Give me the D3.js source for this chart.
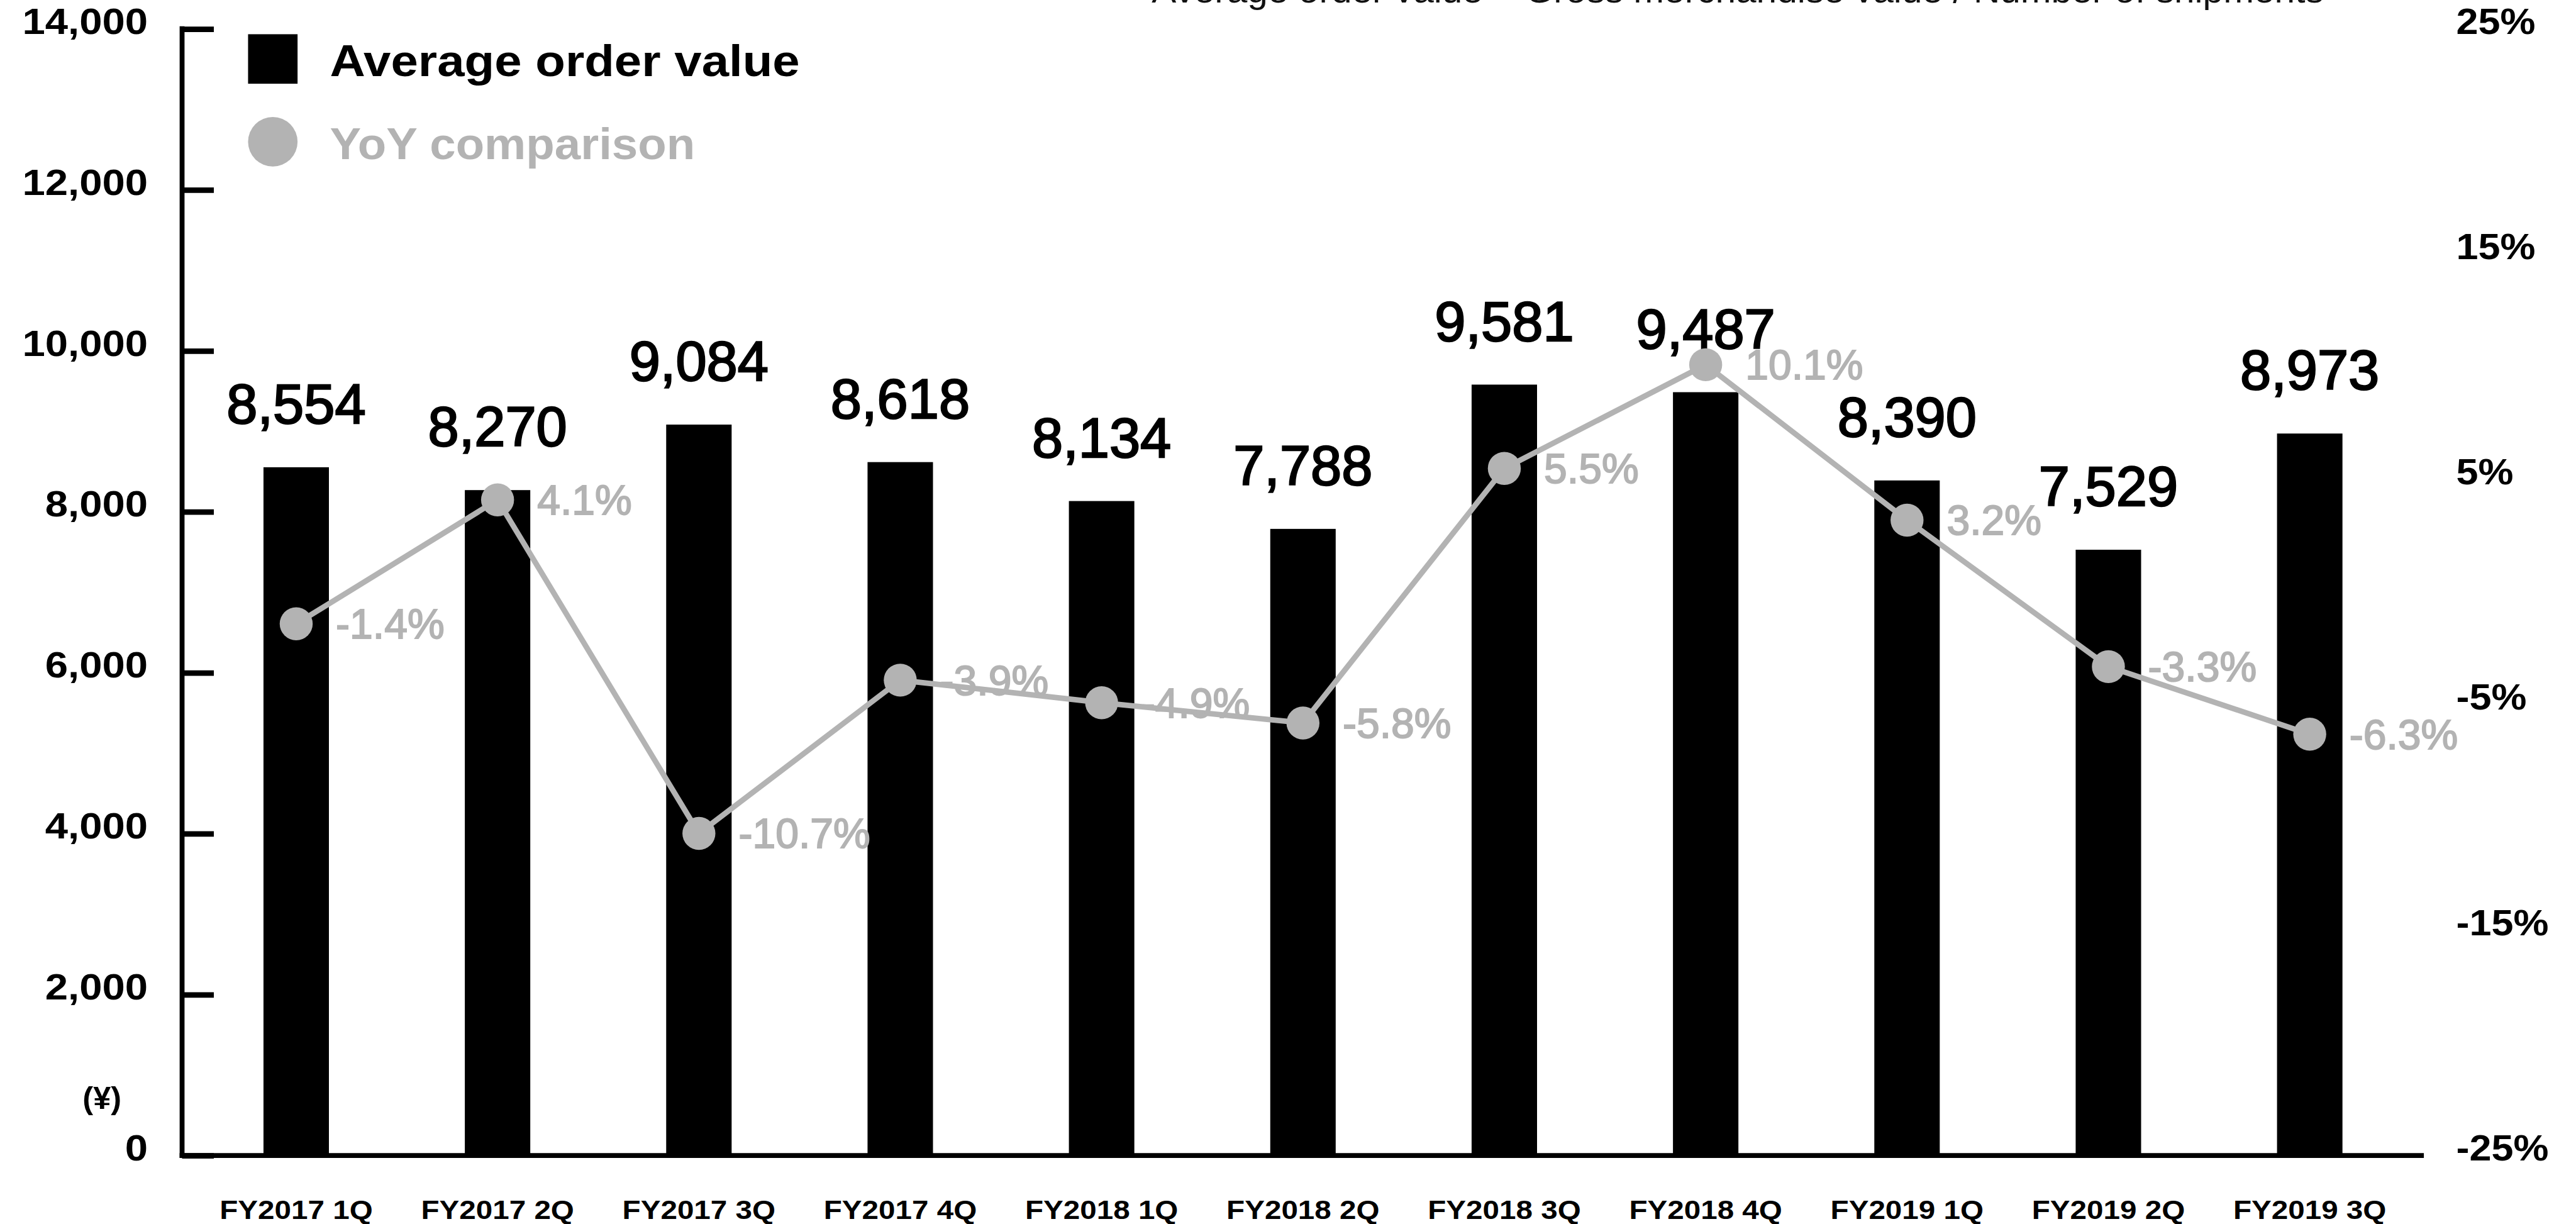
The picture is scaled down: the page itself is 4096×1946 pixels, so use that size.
<!DOCTYPE html>
<html>
<head>
<meta charset="utf-8">
<script src="https://cdn.jsdelivr.net/npm/d3@7"></script>
<style>
  html, body { margin: 0; padding: 0; background: #fff; overflow: hidden; }
  svg { display: block; }
  text { font-family: "Liberation Sans", Arial, Helvetica, sans-serif; }
</style>
</head>
<body>
<script>
// Quarterly average order value (yen) and its year-over-year change (%)
const quarters = ["FY2017 1Q", "FY2017 2Q", "FY2017 3Q", "FY2017 4Q", "FY2018 1Q", "FY2018 2Q",
                  "FY2018 3Q", "FY2018 4Q", "FY2019 1Q", "FY2019 2Q", "FY2019 3Q"];
const avgOrderValue = [8554, 8270, 9084, 8618, 8134, 7788, 9581, 9487, 8390, 7529, 8973];
const yoyChange = [-1.4, 4.1, -10.7, -3.9, -4.9, -5.8, 5.5, 10.1, 3.2, -3.3, -6.3];

const leftTicks = [0, 2000, 4000, 6000, 8000, 10000, 12000, 14000];
const leftTickLabels = ["0", "2,000", "4,000", "6,000", "8,000", "10,000", "12,000", "14,000"];
const rightTicks = [-25, -15, -5, 5, 15, 25];
const rightTickLabels = ["-25%", "-15%", "-5%", "5%", "15%", "25%"];

const legendLabels = ["Average order value", "YoY comparison"];
const formulaNote = "Average order value = Gross merchandise value / Number of shipments";
const unitLabel = "(¥)";

// Drawing space (scaled down to the window through the viewBox)
const W = 4216, H = 2003;
const GRAY = "#b3b3b3";
const axisX = 298, axisBottom = 1891, axisTop = 47.5, axisRight = 3967;

const svg = d3.select("body").append("svg")
  .attr("width", 4096).attr("height", 1946)
  .attr("viewBox", `0 0 ${W} ${H}`)
  .attr("preserveAspectRatio", "none");

const x = d3.scaleBand().domain(quarters).range([320, 3945])
  .paddingInner(0.675).paddingOuter(0.3375);
const y = d3.scaleLinear().domain([0, 14000]).range([axisBottom, axisTop]);
const y2 = d3.scaleLinear().domain([-25, 25]).range([axisBottom, axisTop]);

// widen glyphs horizontally to the face's proportions
function stretch(sel, k) {
  sel.each(function () {
    const w = this.getComputedTextLength();
    d3.select(this).attr("textLength", w * k).attr("lengthAdjust", "spacingAndGlyphs");
  });
}

// percent with an ASCII hyphen for negatives
const pct = d => d3.format(".1f")(d).replace("\u2212", "-") + "%";

// Formula note at the top
svg.append("text")
  .attr("x", 1885).attr("y", 4)
  .attr("font-size", 58).attr("fill", "#111")
  .attr("textLength", 1918).attr("lengthAdjust", "spacingAndGlyphs")
  .text(formulaNote);

// Bars
svg.append("g").selectAll("rect")
  .data(avgOrderValue)
  .join("rect")
  .attr("x", (d, i) => x(quarters[i]))
  .attr("width", x.bandwidth())
  .attr("y", d => y(d))
  .attr("height", d => y(0) - y(d))
  .attr("fill", "#000");

// Axis lines
svg.append("line")
  .attr("x1", axisX).attr("x2", axisX)
  .attr("y1", axisTop - 4.5).attr("y2", axisBottom + 4)
  .attr("stroke", "#000").attr("stroke-width", 8);
svg.append("line")
  .attr("x1", axisX - 4).attr("x2", axisRight)
  .attr("y1", axisBottom).attr("y2", axisBottom)
  .attr("stroke", "#000").attr("stroke-width", 8);

// Inward tick marks on the left axis
const tickMarks = svg.append("g")
  .attr("transform", `translate(${axisX},0)`)
  .call(d3.axisRight(y).tickValues(leftTicks).tickSize(52).tickFormat(""));
tickMarks.select(".domain").remove();
tickMarks.selectAll("line").attr("stroke", "#000").attr("stroke-width", 9);

// Left axis labels
const leftAxis = svg.append("g")
  .attr("transform", `translate(${axisX},0)`)
  .call(d3.axisLeft(y).tickValues(leftTicks).tickSize(0).tickPadding(56)
    .tickFormat((d, i) => leftTickLabels[i]));
leftAxis.select(".domain").remove();
leftAxis.selectAll("text")
  .attr("font-size", 60).attr("font-weight", 700).attr("fill", "#000")
  .attr("font-family", null)
  .attr("dy", "0.24em")
  .attr("y", -7);
stretch(leftAxis.selectAll("text"), 1.12);

// Right axis labels (YoY scale)
const rightAxis = svg.append("g")
  .attr("transform", "translate(4020,0)")
  .call(d3.axisRight(y2).tickValues(rightTicks).tickSize(0).tickPadding(0)
    .tickFormat((d, i) => rightTickLabels[i]));
rightAxis.select(".domain").remove();
rightAxis.selectAll("text")
  .attr("font-size", 60).attr("font-weight", 700).attr("fill", "#000")
  .attr("font-family", null)
  .attr("text-anchor", "start")
  .attr("dy", "0.24em")
  .attr("y", -7);
stretch(rightAxis.selectAll("text"), 1.08);

// Category axis labels
const xAxis = svg.append("g")
  .attr("transform", `translate(0,${axisBottom})`)
  .call(d3.axisBottom(x).tickSize(0).tickPadding(0));
xAxis.select(".domain").remove();
xAxis.selectAll("text")
  .attr("font-size", 43).attr("font-weight", 700).attr("fill", "#000")
  .attr("font-family", null)
  .attr("dy", 0).attr("y", 104);
stretch(xAxis.selectAll("text"), 1.14);

// Unit label
svg.append("text")
  .attr("x", 167).attr("y", 1815)
  .attr("text-anchor", "middle")
  .attr("font-size", 52).attr("font-weight", 700)
  .text(unitLabel);

// Value labels above bars
svg.append("g").selectAll("text")
  .data(avgOrderValue)
  .join("text")
  .attr("x", (d, i) => x(quarters[i]) + x.bandwidth() / 2)
  .attr("y", d => y(d) - 72)
  .attr("text-anchor", "middle")
  .attr("font-size", 91)
  .attr("fill", "#000").attr("stroke", "#000").attr("stroke-width", 2.5)
  .text(d => d3.format(",")(d));

// YoY line with markers
const cx = i => x(quarters[i]) + x.bandwidth() / 2;
const line = d3.line().x((d, i) => cx(i)).y(d => y2(d));
svg.append("path")
  .datum(yoyChange)
  .attr("d", line)
  .attr("fill", "none")
  .attr("stroke", GRAY).attr("stroke-width", 9)
  .attr("stroke-linejoin", "round");
svg.append("g").selectAll("circle")
  .data(yoyChange)
  .join("circle")
  .attr("cx", (d, i) => cx(i))
  .attr("cy", d => y2(d))
  .attr("r", 27)
  .attr("fill", GRAY);
svg.append("g").selectAll("text")
  .data(yoyChange)
  .join("text")
  .attr("x", (d, i) => cx(i) + 65)
  .attr("y", d => y2(d) + 24)
  .attr("font-size", 68)
  .attr("fill", GRAY).attr("stroke", GRAY).attr("stroke-width", 2)
  .text(pct);

// Legend
const legend = svg.append("g");
legend.append("rect")
  .attr("x", 406).attr("y", 56).attr("width", 81).attr("height", 81)
  .attr("fill", "#000");
legend.append("circle")
  .attr("cx", 446.5).attr("cy", 232).attr("r", 40.5)
  .attr("fill", GRAY);
const legendText = legend.selectAll("text")
  .data(legendLabels)
  .join("text")
  .attr("x", 540)
  .attr("y", (d, i) => i === 0 ? 125 : 260)
  .attr("font-size", 73).attr("font-weight", 700)
  .attr("fill", (d, i) => i === 0 ? "#000" : GRAY)
  .text(d => d);
stretch(legendText.filter((d, i) => i === 0), 1.1);
stretch(legendText.filter((d, i) => i === 1), 1.05);
</script>
</body>
</html>
